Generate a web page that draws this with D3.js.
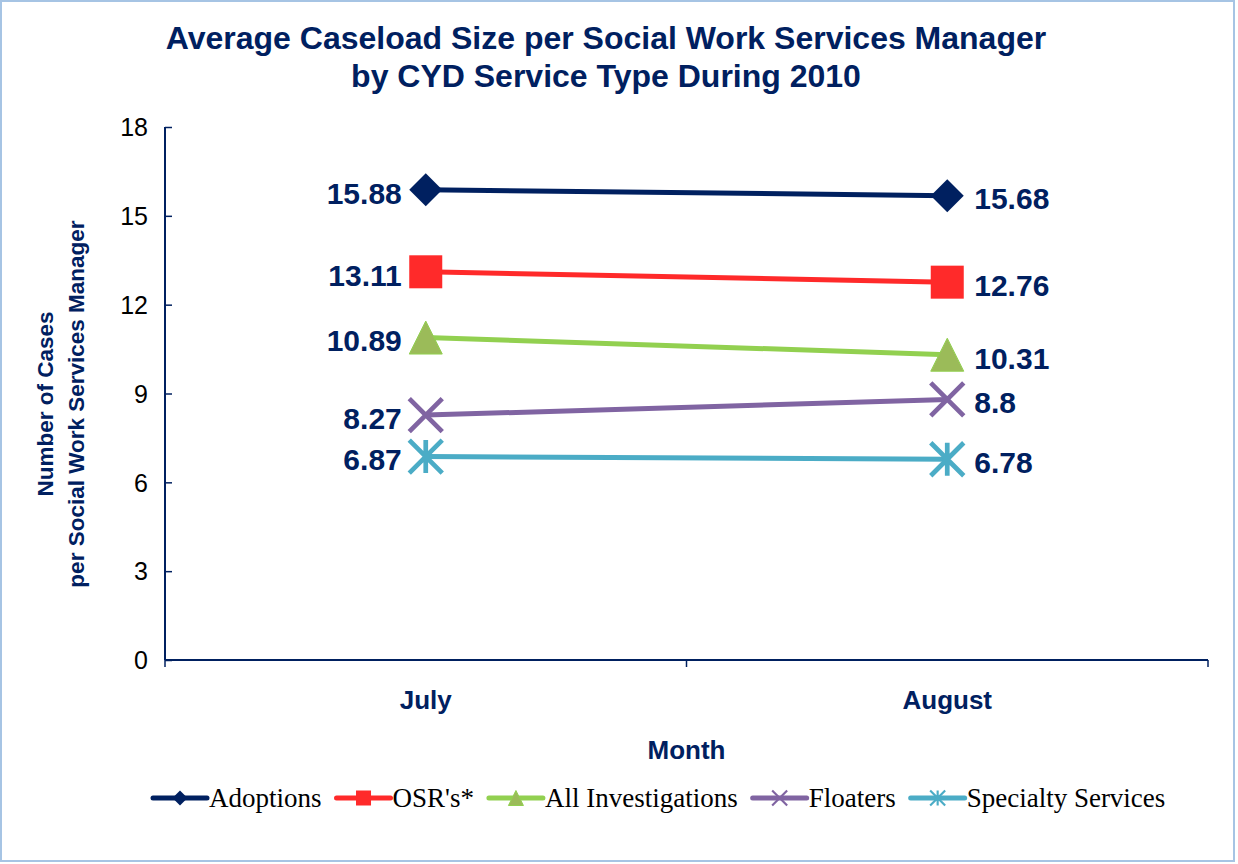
<!DOCTYPE html>
<meta charset="utf-8">
<html>
<head>
<style>
  body { margin: 0; background: #fff; }
  svg { display: block; }
  .axis text { font-family: "Liberation Sans", Arial, sans-serif; }
</style>
</head>
<script src="https://d3js.org/d3.v7.min.js"></script>
<body>
<div id="vis"></div>
<script>
  // data
  var months = ["July", "August"];
  var seriesNames = ["Adoptions", "OSR's*", "All Investigations", "Floaters", "Specialty Services"];
  var adoptions = [15.88, 15.68];
  var osrs = [13.11, 12.76];
  var investigations = [10.89, 10.31];
  var floaters = [8.27, 8.8];
  var specialty = [6.87, 6.78];
  var yTicks = [0, 3, 6, 9, 12, 15, 18];

  var navy = "#002060";
  var styles = [
    {line: "#002060", fill: "#002060", shape: "diamond"},
    {line: "#ff2a2a", fill: "#ff2a2a", shape: "square"},
    {line: "#92d050", fill: "#9bbb59", shape: "triangle"},
    {line: "#8064a2", fill: "#8064a2", shape: "x"},
    {line: "#4bacc6", fill: "#4bacc6", shape: "star"}
  ];
  var values = [adoptions, osrs, investigations, floaters, specialty];

  var W = 1238, H = 864;
  var margin = {top: 127, right: 30, bottom: 204, left: 165},
  width = 1208 - margin.left,
  height = 660 - margin.top;

  var svg0 = d3.select("#vis").append("svg")
    .attr("width", W)
    .attr("height", H);

  // outer frame
  svg0.append("rect")
    .attr("x", 1).attr("y", 1)
    .attr("width", W - 5).attr("height", H - 4)
    .style("fill", "#fff")
    .style("stroke", "#a6c4e4")
    .style("stroke-width", 2);

  var svg = svg0.append("g")
    .attr("transform", "translate(" + margin.left + "," + margin.top + ")");

  var x = d3.scaleBand().domain(months).range([0, width]);
  var y = d3.scaleLinear().domain([0, 18]).range([height, 0]);

  // title
  var title = svg0.append("text")
    .attr("x", 606)
    .attr("y", 49)
    .style("text-anchor", "middle")
    .style("font-family", "Liberation Sans, Arial, sans-serif")
    .style("font-weight", "bold")
    .style("font-size", "32px")
    .style("fill", navy);
  title.append("tspan").attr("x", 606).text("Average Caseload Size per Social Work Services Manager");
  title.append("tspan").attr("x", 606).attr("dy", 38).text("by CYD Service Type During 2010");

  // axes
  var yAxis = svg.append("g")
    .attr("class", "axis")
    .call(d3.axisRight(y).tickValues(yTicks).tickSize(7).tickFormat(d3.format("d")));
  yAxis.selectAll("line").style("stroke", navy).style("stroke-width", 1.5);
  yAxis.select(".domain").style("stroke", navy).style("stroke-width", 2).attr("d", "M0," + height + "V0");
  yAxis.selectAll("text")
    .attr("x", -17)
    .attr("dy", "0.35em")
    .style("text-anchor", "end")
    .style("font-size", "25px")
    .style("fill", "#000");

  var xAxis = svg.append("g")
    .attr("class", "axis")
    .attr("transform", "translate(0," + height + ")");
  xAxis.append("path")
    .attr("d", "M0,0H" + width)
    .style("stroke", navy)
    .style("stroke-width", 2)
    .style("fill", "none");
  xAxis.selectAll(".tk")
    .data([0].concat(months.map(function(m) { return x(m) + x.bandwidth(); })))
    .enter().append("line")
    .attr("class", "tk")
    .attr("x1", function(d) { return d; })
    .attr("x2", function(d) { return d; })
    .attr("y1", 0).attr("y2", 7)
    .style("stroke", navy)
    .style("stroke-width", 1.5);
  xAxis.selectAll(".lbl")
    .data(months)
    .enter().append("text")
    .attr("class", "lbl")
    .attr("x", function(d) { return x(d) + x.bandwidth() / 2; })
    .attr("y", 49)
    .style("text-anchor", "middle")
    .style("font-weight", "bold")
    .style("font-size", "26px")
    .style("fill", navy)
    .text(function(d) { return d; });

  svg.append("text")
    .attr("x", width / 2)
    .attr("y", height + 99)
    .style("text-anchor", "middle")
    .style("font-family", "Liberation Sans, Arial, sans-serif")
    .style("font-weight", "bold")
    .style("font-size", "26px")
    .style("fill", navy)
    .text("Month");

  var ytitle = svg0.append("text")
    .attr("transform", "translate(53,404) rotate(-90)")
    .style("text-anchor", "middle")
    .style("font-family", "Liberation Sans, Arial, sans-serif")
    .style("font-weight", "bold")
    .style("font-size", "22.5px")
    .style("fill", navy);
  ytitle.append("tspan").attr("x", 0).attr("y", 0).text("Number of Cases");
  ytitle.append("tspan").attr("x", 0).attr("dy", 31).text("per Social Work Services Manager");

  function drawMarker(g, shape, s, st) {
    var r = s / 2;
    if (shape === "diamond") {
      g.append("path").attr("d", "M0," + (-r) + "L" + r + ",0L0," + r + "L" + (-r) + ",0Z")
        .style("fill", st.fill);
    } else if (shape === "square") {
      g.append("rect").attr("x", -r).attr("y", -r).attr("width", s).attr("height", s)
        .style("fill", st.fill);
    } else if (shape === "triangle") {
      g.append("path").attr("d", "M0," + (-r) + "L" + r + "," + r + "L" + (-r) + "," + r + "Z")
        .style("fill", st.fill).style("stroke", st.line).style("stroke-width", 1);
    } else if (shape === "x") {
      g.append("path").attr("d", "M" + (-r) + "," + (-r) + "L" + r + "," + r + "M" + r + "," + (-r) + "L" + (-r) + "," + r)
        .style("stroke", st.fill).style("stroke-width", s / 7).style("fill", "none");
    } else {
      g.append("path").attr("d", "M" + (-r) + "," + (-r) + "L" + r + "," + r + "M" + r + "," + (-r) + "L" + (-r) + "," + r + "M0," + (-r) + "V" + r)
        .style("stroke", st.fill).style("stroke-width", s / 7).style("fill", "none");
    }
  }

  var line = d3.line()
    .x(function(d, i) { return x(months[i]) + x.bandwidth() / 2; })
    .y(function(d) { return y(d); });

  values.forEach(function(vals, k) {
    var st = styles[k];
    svg.append("path")
      .datum(vals)
      .attr("d", line)
      .style("fill", "none")
      .style("stroke", st.line)
      .style("stroke-width", 5);

    vals.forEach(function(v, i) {
      var cx = x(months[i]) + x.bandwidth() / 2, cy = y(v);
      var g = svg.append("g").attr("transform", "translate(" + cx + "," + cy + ")");
      drawMarker(g, st.shape, 33, st);

      svg.append("text")
        .attr("x", i === 0 ? cx - 24 : cx + 27)
        .attr("y", cy + 3)
        .attr("dy", "0.36em")
        .style("text-anchor", i === 0 ? "end" : "start")
        .style("font-family", "Liberation Sans, Arial, sans-serif")
        .style("font-weight", "bold")
        .style("font-size", "30px")
        .style("fill", navy)
        .text(v);
    });
  });

  // legend
  var legend = svg0.append("g").attr("transform", "translate(153,798)");
  var lx = 0;
  seriesNames.forEach(function(name, k) {
    var st = styles[k];
    var item = legend.append("g").attr("transform", "translate(" + lx + ",0)");
    item.append("line")
      .attr("x1", 0).attr("x2", 54)
      .style("stroke", st.line).style("stroke-width", 5)
      .style("stroke-linecap", "round");
    var mg = item.append("g").attr("transform", "translate(27,0)");
    drawMarker(mg, st.shape, 15, st);
    var t = item.append("text")
      .attr("x", 56)
      .attr("dy", "0.33em")
      .style("font-family", "Liberation Serif, serif")
      .style("font-size", "27px")
      .style("fill", "#000")
      .text(name);
    lx += 56 + t.node().getComputedTextLength() + 15;
  });
</script>
</body>
</html>
